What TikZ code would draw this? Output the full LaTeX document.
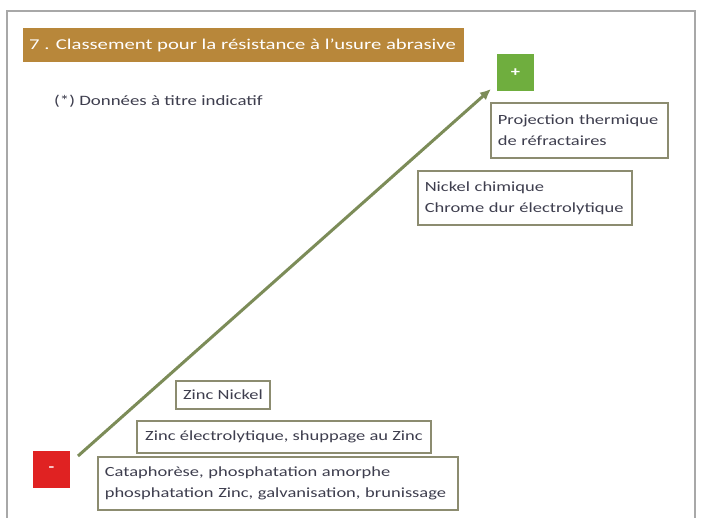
\documentclass[tikz,border=0pt]{standalone}
\usepackage{fontspec}
\setmainfont{Carlito}[FakeStretch=1.32]
\newfontfamily\titlefont{Carlito}[FakeStretch=1.38]
\usetikzlibrary{arrows.meta}
\definecolor{titlebar}{HTML}{B8873A}
\definecolor{plusgreen}{HTML}{6FAE3E}
\definecolor{minusred}{HTML}{E02222}
\definecolor{arrowgreen}{HTML}{7C8C58}
\definecolor{boxline}{HTML}{8C8C70}
\definecolor{boxtext}{HTML}{3E3E4E}
\definecolor{frameline}{HTML}{A8A8A8}
\begin{document}
\begin{tikzpicture}[x=1pt,y=-1pt,
  item/.style={draw=boxline,line width=1.6pt,fill=white,text=boxtext,
    font=\fontsize{14}{21}\selectfont,inner xsep=7pt,inner ysep=3pt,
    anchor=north west},
  sign/.style={minimum width=#1,minimum height=#1,inner sep=0pt,
    text=white,font=\fontsize{14}{14}\selectfont\bfseries}]
\useasboundingbox (0,0) rectangle (702,518);
\fill[white] (0,0) rectangle (702,518);
% slide frame
\draw[frameline,line width=1.2pt] (7,540) -- (7,11) -- (695,11) -- (695,540);
% title bar
\fill[titlebar] (23,28) rectangle (464,62);
\node[anchor=west,text=white,font=\titlefont\fontsize{15}{15}\selectfont,inner sep=0pt] (title) at (29,45)
  {7 . Classement pour la résistance à l’usure abrasive};
\node[anchor=west,text=boxtext,font=\fontsize{14.3}{15}\selectfont,inner sep=0pt] (note) at (54,101)
  {(*) Données à titre indicatif};
% end markers
\node[sign=37pt,fill=plusgreen] (plus) at (515.5,73) {+};
\node[sign=37pt,fill=minusred] (minus) at (51.5,469.5) {-};
% rising arrow
\coordinate (lo) at (78,456);
\coordinate (hi) at (491,89);
\draw[arrowgreen,line width=3pt,-{Latex[length=11pt,width=10pt]}] (lo) -- (hi);
% ranked treatments
\node[item,text width=163pt,minimum height=55pt,align=left] (proj) at (490,102)
  {Projection thermique\\de réfractaires};
\node[item,text width=200pt,minimum height=54pt,align=left] (nick) at (417,170)
  {Nickel chimique\\Chrome dur électrolytique};
\node[item,minimum width=94pt,minimum height=28pt,anchor=center,align=center] (zn) at (223,395)
  {Zinc Nickel};
\node[item,minimum width=294pt,minimum height=32pt,anchor=center,align=center] (zne) at (284,437)
  {Zinc électrolytique, shuppage au Zinc};
\node[item,text width=346pt,minimum height=53pt,align=left] (cata) at (97,456)
  {Cataphorèse, phosphatation amorphe\\phosphatation Zinc, galvanisation, brunissage};
\end{tikzpicture}
\end{document}
